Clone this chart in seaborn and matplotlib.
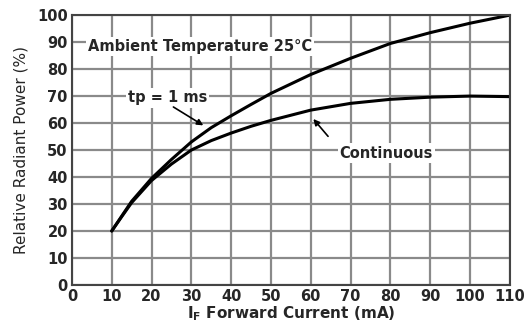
import pandas as pd
import matplotlib
matplotlib.use('Agg')
import matplotlib.pyplot as plt
import seaborn as sns

# valores
corriente = [10, 12.5, 15, 20, 25, 30, 35, 40, 45, 50, 60, 70, 80, 90, 100, 110]
pulso_1ms = [20, 25.5, 31, 39.5, 46.5, 53, 58.3, 62.7, 66.9, 71, 78, 84, 89.5, 93.5, 97, 100]
continuo = [20, 25.3, 30.5, 38.7, 44.8, 50, 53.5, 56.3, 58.8, 61, 64.8, 67.3, 68.8, 69.6, 70, 69.8]
xticks = list(range(0, 111, 10))
yticks = list(range(0, 101, 10))

df = pd.DataFrame({
    'corriente': corriente * 2,
    'potencia': pulso_1ms + continuo,
    'serie': ['tp = 1 ms'] * len(corriente) + ['Continuous'] * len(corriente),
})

sns.set_style('white')
plt.rcParams['font.family'] = ['DejaVu Sans']

fig = plt.figure(figsize=(5.25, 3.22), dpi=100)
ax = fig.add_axes([0.137, 0.115, 0.834, 0.838])

sns.lineplot(data=df, x='corriente', y='potencia', units='serie', estimator=None,
             color='black', linewidth=2.2, ax=ax, legend=False)

ax.set_xlim(0, 110)
ax.set_ylim(0, 100)
ax.set_xticks(xticks)
ax.set_yticks(yticks)
ax.grid(True, color='#8a8a8a', linewidth=1.6)
ax.set_axisbelow(True)
ax.tick_params(length=0, pad=3)
for lbl in ax.get_xticklabels() + ax.get_yticklabels():
    lbl.set_fontweight('bold')
    lbl.set_fontsize(10.5)
for s in ax.spines.values():
    s.set_color('#444444')
    s.set_linewidth(1.5)

ax.set_xlabel(r'I$_\mathbf{F}$ Forward Current (mA)', fontsize=11, fontweight='bold', labelpad=0)
ax.set_ylabel('Relative Radiant Power (%)', fontsize=11,
              family=['Liberation Sans Narrow', 'DejaVu Sans'], labelpad=6)

caja = dict(facecolor='white', edgecolor='none', pad=1.5)
ax.text(4, 88.3, 'Ambient Temperature 25°C', fontsize=10.5, fontweight='bold',
        va='center', ha='left', bbox=caja)
ax.text(24, 69.3, 'tp = 1 ms', fontsize=10.5, fontweight='bold',
        va='center', ha='center', bbox=caja)
ax.text(79, 48.9, 'Continuous', fontsize=10.5, fontweight='bold',
        va='center', ha='center', bbox=caja)

flecha = dict(arrowstyle='-|>', color='black', lw=1.2, mutation_scale=9)
ax.annotate('', xy=(33.6, 58.6), xytext=(24.9, 66.5), arrowprops=flecha)
ax.annotate('', xy=(60.2, 62.3), xytext=(64.8, 54.3), arrowprops=flecha)

fig.savefig('out.png', dpi=100)
